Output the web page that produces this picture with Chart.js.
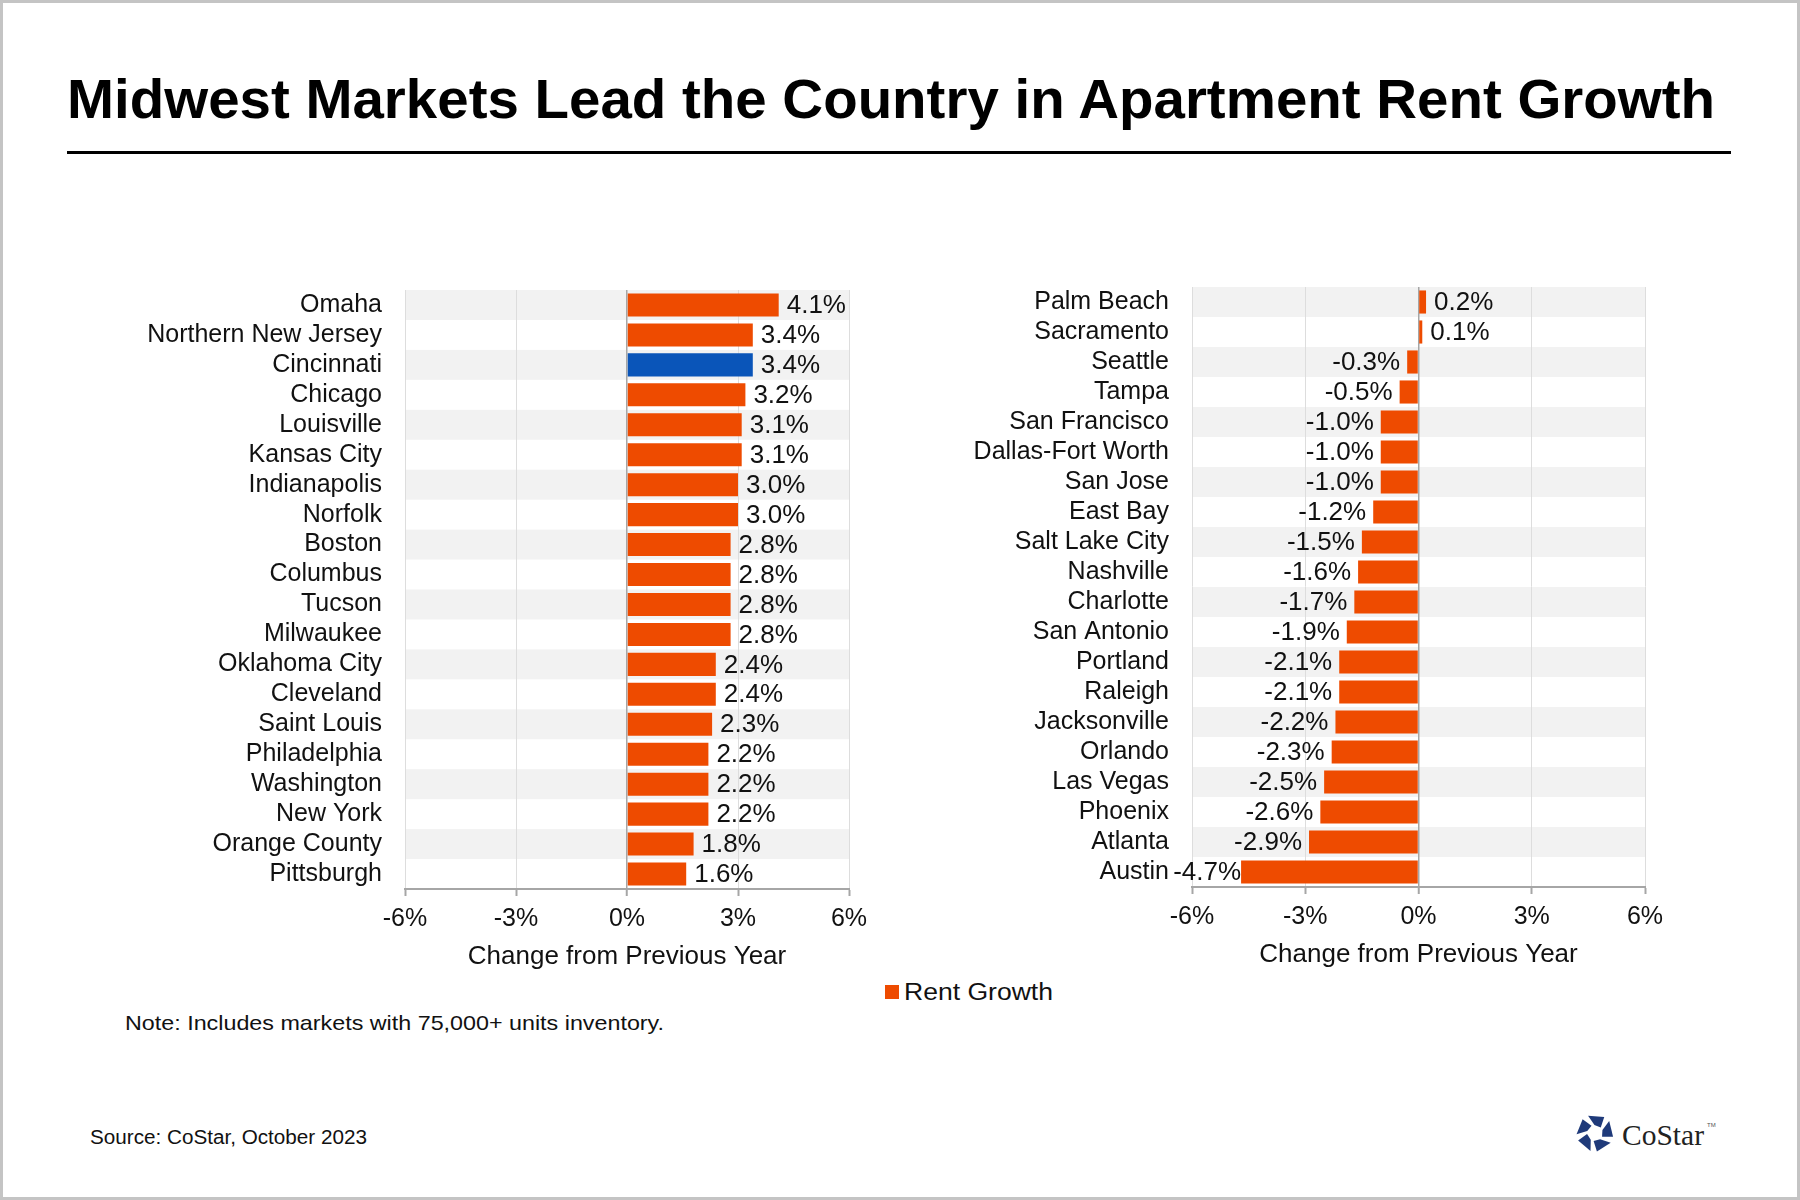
<!DOCTYPE html>
<html>
<head>
<meta charset="utf-8">
<script src="https://cdn.jsdelivr.net/npm/chart.js@4.4.0/dist/chart.umd.min.js"></script>
<style>
  html, body { margin: 0; padding: 0; background: #fff; }
  #page { position: relative; width: 1800px; height: 1200px; box-sizing: border-box;
          border: 3px solid #c4c4c4; overflow: hidden; font-family: "Liberation Sans", Arial, sans-serif; }
  .txt { position: absolute; white-space: nowrap; line-height: 1; color: #111; transform-origin: 0 0; }
  canvas { position: absolute; }
</style>
</head>
<body>
<div id="page">
  <div id="rule" style="position:absolute;left:64px;top:148px;width:1664px;height:3px;background:#000"></div>
  <canvas id="left" width="820" height="702" style="left:77px;top:267px"></canvas>
  <canvas id="right" width="800" height="703" style="left:897px;top:264px"></canvas>
  <div style="position:absolute;left:882px;top:982px;width:14px;height:14px;background:#EE4B00"></div>
  <svg id="logo" width="38" height="38" viewBox="-19 -19 38 38" style="position:absolute;left:1573px;top:1111px"></svg>
</div>
<script>
// rent growth, change from previous year (%)
const leftMarkets = ['Omaha', 'Northern New Jersey', 'Cincinnati', 'Chicago', 'Louisville',
  'Kansas City', 'Indianapolis', 'Norfolk', 'Boston', 'Columbus', 'Tucson', 'Milwaukee',
  'Oklahoma City', 'Cleveland', 'Saint Louis', 'Philadelphia', 'Washington', 'New York',
  'Orange County', 'Pittsburgh'];
const leftGrowth = [4.1, 3.4, 3.4, 3.2, 3.1, 3.1, 3.0, 3.0, 2.8, 2.8, 2.8, 2.8,
  2.4, 2.4, 2.3, 2.2, 2.2, 2.2, 1.8, 1.6];

const rightMarkets = ['Palm Beach', 'Sacramento', 'Seattle', 'Tampa', 'San Francisco',
  'Dallas-Fort Worth', 'San Jose', 'East Bay', 'Salt Lake City', 'Nashville', 'Charlotte',
  'San Antonio', 'Portland', 'Raleigh', 'Jacksonville', 'Orlando', 'Las Vegas', 'Phoenix',
  'Atlanta', 'Austin'];
const rightGrowth = [0.2, 0.1, -0.3, -0.5, -1.0, -1.0, -1.0, -1.2, -1.5, -1.6, -1.7,
  -1.9, -2.1, -2.1, -2.2, -2.3, -2.5, -2.6, -2.9, -4.7];

const xTicks = [-6, -3, 0, 3, 6];
const highlightMarket = 'Cincinnati';

const ORANGE = '#EE4B00';
const BLUE = '#0A55B9';

const page = document.getElementById('page');

// positioned text, stretched to the measured width
function addText(str, x, baseline, size, width, extra) {
  const d = document.createElement('div');
  d.className = 'txt';
  d.textContent = str;
  d.style.left = x + 'px';
  d.style.top = (baseline - 0.8465 * size) + 'px';
  d.style.fontSize = size + 'px';
  Object.assign(d.style, extra || {});
  page.appendChild(d);
  if (width) {
    const w = d.getBoundingClientRect().width;
    d.style.transform = 'scaleX(' + (width / w) + ')';
  }
  return d;
}

addText('Midwest Markets Lead the Country in Apartment Rent Growth', 64, 115, 56, 1648,
  { fontWeight: 'bold', color: '#000' });
addText('Rent Growth', 901, 997, 23, 149);
addText('Note: Includes markets with 75,000+ units inventory.', 122, 1027, 21, 539);
addText('Source: CoStar, October 2023', 87, 1141, 20, 277);
addText('CoStar', 1619, 1142, 30, 82, { fontFamily: '"Liberation Serif", "DejaVu Serif", serif', color: '#222' });
addText('TM', 1704, 1124, 6, 0, { color: '#555' });

// star mark: five tiles around a pentagon
(function () {
  const svg = document.getElementById('logo');
  const pt = (r, a) => [r * Math.cos(a * Math.PI / 180), r * Math.sin(a * Math.PI / 180)];
  let html = '';
  for (let k = 0; k < 5; k++) {
    const a = -90 + k * 72;
    const p = [pt(18.5, a - 22), pt(18.5, a + 30), pt(8, a + 46), pt(8, a - 4)];
    html += '<polygon fill="#1F3A7A" points="' + p.map(q => q[0].toFixed(2) + ',' + q[1].toFixed(2)).join(' ') + '"/>';
  }
  svg.innerHTML = html;
})();

Chart.defaults.font.family = '"Liberation Sans", Arial, sans-serif';
Chart.defaults.color = '#111';

// alternating row bands behind the bars
const rowBands = {
  id: 'rowBands',
  beforeDraw(chart) {
    const { ctx, chartArea, scales: { y } } = chart;
    const n = chart.data.labels.length;
    const half = (y.bottom - y.top) / n / 2;
    ctx.save();
    ctx.fillStyle = '#F2F2F2';
    for (let i = 0; i < n; i += 2) {
      const c = y.getPixelForValue(i);
      ctx.fillRect(chartArea.left, c - half, chartArea.right - chartArea.left, half * 2);
    }
    ctx.restore();
  }
};

// value labels at the bar ends
const valueLabels = {
  id: 'valueLabels',
  afterDatasetsDraw(chart) {
    const { ctx, chartArea } = chart;
    const meta = chart.getDatasetMeta(0);
    const vals = chart.data.datasets[0].data;
    ctx.save();
    ctx.font = '26px "Liberation Sans", Arial, sans-serif';
    ctx.fillStyle = '#111';
    ctx.textBaseline = 'middle';
    meta.data.forEach((bar, i) => {
      const v = vals[i];
      const s = v.toFixed(1) + '%';
      if (v >= 0) {
        ctx.textAlign = 'left';
        ctx.fillText(s, bar.x + 8, bar.y + 1);
      } else {
        // long bars: label tucked right against the bar
        const w = ctx.measureText(s).width;
        const gap = (bar.x - 7 - w < chartArea.left - 18) ? 0 : 7;
        ctx.textAlign = 'right';
        ctx.fillText(s, bar.x - gap, bar.y + 1);
      }
    });
    ctx.restore();
  }
};

function makeChart(id, labels, values, axisW, padRight) {
  return new Chart(document.getElementById(id), {
    type: 'bar',
    data: {
      labels: labels,
      datasets: [{
        label: 'Rent Growth',
        data: values,
        backgroundColor: labels.map(m => m === highlightMarket ? BLUE : ORANGE),
        borderWidth: 0,
        barPercentage: 0.77,
        categoryPercentage: 1
      }]
    },
    options: {
      indexAxis: 'y',
      responsive: false,
      animation: false,
      layout: { padding: { top: 20, right: padRight, left: 0, bottom: 0 } },
      plugins: { legend: { display: false }, tooltip: { enabled: false } },
      scales: {
        x: {
          min: xTicks[0],
          max: xTicks[xTicks.length - 1],
          afterFit: s => { s.height = 83; },
          afterBuildTicks: s => { s.ticks = xTicks.map(v => ({ value: v })); },
          ticks: {
            padding: 8,
            font: { size: 25 },
            color: '#111',
            callback: v => v + '%'
          },
          grid: {
            color: c => (c.tick && c.tick.value === 0) ? '#A6A6A6' : '#DDDDDD',
            lineWidth: c => (c.tick && c.tick.value === 0) ? 1.5 : 1,
            tickColor: '#A6A6A6',
            tickWidth: 2,
            tickLength: 7
          },
          border: { color: '#A6A6A6', width: 2 },
          title: {
            display: true,
            text: 'Change from Previous Year',
            font: { size: 26 },
            color: '#111',
            padding: { top: 4, bottom: 0 }
          }
        },
        y: {
          afterFit: s => { s.width = axisW; s.paddingTop = 0; s.paddingBottom = 0; },
          grid: { display: false, drawTicks: false },
          border: { display: false },
          ticks: { autoSkip: false, padding: 23, font: { size: 25 }, color: '#111' }
        }
      }
    },
    plugins: [rowBands, valueLabels]
  });
}

makeChart('left', leftMarkets, leftGrowth, 325, 51);
makeChart('right', rightMarkets, rightGrowth, 292, 55);
</script>
</body>
</html>
